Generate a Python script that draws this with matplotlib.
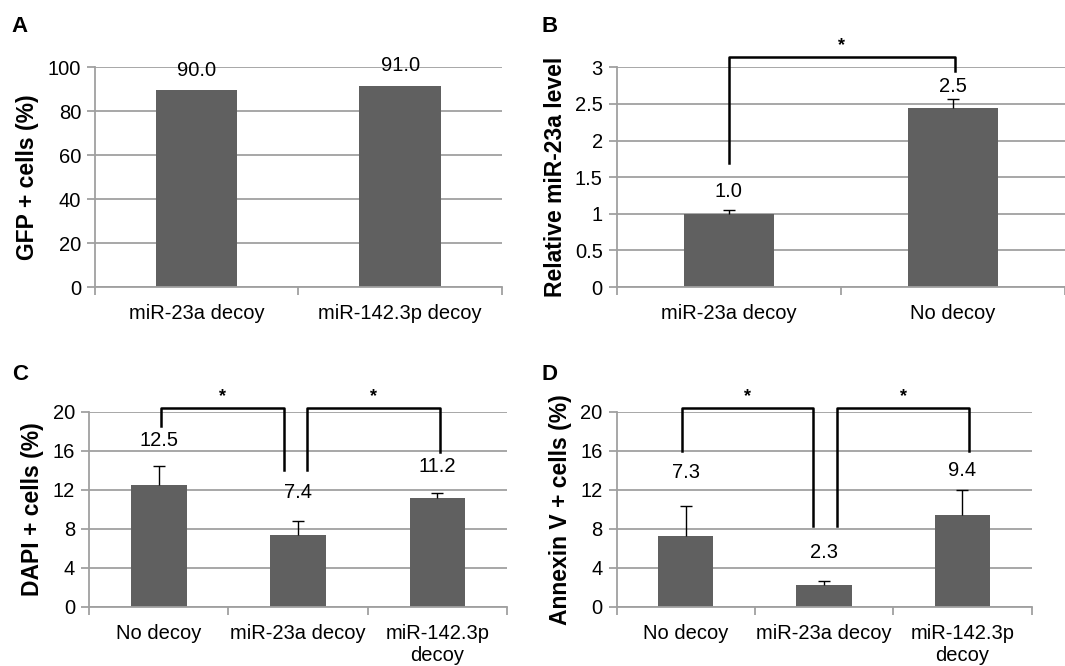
import matplotlib
matplotlib.use("Agg")
import matplotlib.pyplot as plt
import numpy as np

plt.rcParams["font.family"] = ["Liberation Sans", "DejaVu Sans"]

# Panel A
a_cats = ["miR-23a decoy", "miR-142.3p decoy"]
a_vals = [89.5, 91.4]
a_labels = ["90.0", "91.0"]
a_label_y = [98.6, 100.9]

# Panel B
b_cats = ["miR-23a decoy", "No decoy"]
b_vals = [1.0, 2.45]
b_err = [0.05, 0.12]
b_labels = ["1.0", "2.5"]
b_label_y = [1.3, 2.74]

# Panel C
c_cats = ["No decoy", "miR-23a decoy", "miR-142.3p\ndecoy"]
c_vals = [12.5, 7.4, 11.2]
c_err = [2.0, 1.4, 0.5]
c_labels = ["12.5", "7.4", "11.2"]
c_label_y = [17.1, 11.7, 14.4]

# Panel D
d_cats = ["No decoy", "miR-23a decoy", "miR-142.3p\ndecoy"]
d_vals = [7.3, 2.3, 9.4]
d_err = [3.1, 0.4, 2.6]
d_labels = ["7.3", "2.3", "9.4"]
d_label_y = [13.8, 5.6, 14.0]

BAR = "#606060"
GRID = "#a0a0a0"
FS = 14.5


def draw_panel(ax, cats, vals, ymax, step, ylabel, labels, label_y, err=None):
    x = np.arange(len(cats))
    ax.set_xlim(-0.5, len(cats) - 0.5)
    ax.set_ylim(0, ymax)
    ax.set_yticks(np.arange(0, ymax + step / 2, step))
    ax.yaxis.grid(True, color=GRID, linewidth=1.3)
    ax.set_axisbelow(True)
    ax.bar(x, vals, width=0.4, color=BAR, zorder=2)
    if err is not None:
        # only the upper half of the error bar, capped at the top
        tops = np.asarray(vals) + np.asarray(err)
        ax.vlines(x, vals, tops, color="black", lw=1, zorder=3)
        ax.plot(x, tops, ls="none", marker="_", ms=8, mew=1, color="black",
                zorder=3)
    for xi, lab, ly in zip(x, labels, label_y):
        ax.text(xi, ly, lab, ha="center", va="center", fontsize=FS, clip_on=False)
    for s in ["top", "right"]:
        ax.spines[s].set_visible(False)
    for s in ["left", "bottom"]:
        ax.spines[s].set_color(GRID)
        ax.spines[s].set_linewidth(1.3)
    ax.set_xticks(x)
    ax.set_xticklabels(cats, fontsize=FS, linespacing=1.2)
    ax.set_xticks(np.arange(-0.5, len(cats)), minor=True)
    ax.tick_params(axis="x", which="major", length=0, pad=12)
    ax.tick_params(axis="x", which="minor", length=6, color=GRID, width=1.3)
    ax.tick_params(axis="y", length=6, color=GRID, width=1.3, labelsize=FS, pad=4)
    ax.set_ylabel(ylabel, fontsize=16.5, fontweight="bold", labelpad=6)


def bracket(ax, x1, x2, top, y1, y2, star_y):
    ax.plot([x1, x1, x2, x2], [y1, top, top, y2], color="black", lw=1.8,
            clip_on=False, zorder=4)
    ax.text((x1 + x2) / 2, star_y, "*", ha="center", va="center",
            fontsize=13, fontweight="bold", clip_on=False)


fig = plt.figure(figsize=(10.65, 6.66), dpi=100)

ax_a = fig.add_axes([0.0892, 0.569, 0.382, 0.330])
draw_panel(ax_a, a_cats, a_vals, 100, 20, "GFP + cells (%)", a_labels, a_label_y)

ax_b = fig.add_axes([0.579, 0.569, 0.421, 0.330])
draw_panel(ax_b, b_cats, b_vals, 3, 0.5, "Relative miR-23a level", b_labels,
           b_label_y, b_err)
ax_b.set_yticklabels(["0", "0.5", "1", "1.5", "2", "2.5", "3"])
bracket(ax_b, 0.0, 1.01, 3.14, 1.69, 2.95, 3.3)

ax_c = fig.add_axes([0.0836, 0.0886, 0.3925, 0.293])
draw_panel(ax_c, c_cats, c_vals, 20, 4, "DAPI + cells (%)", c_labels,
           c_label_y, c_err)
bracket(ax_c, 0.02, 0.90, 20.4, 18.5, 14.0, 21.6)
bracket(ax_c, 1.065, 2.02, 20.4, 14.0, 15.9, 21.6)

ax_d = fig.add_axes([0.579, 0.0886, 0.3897, 0.293])
draw_panel(ax_d, d_cats, d_vals, 20, 4, "Annexin V + cells (%)", d_labels,
           d_label_y, d_err)
bracket(ax_d, -0.03, 0.92, 20.4, 16.0, 8.3, 21.6)
bracket(ax_d, 1.09, 2.05, 20.4, 8.3, 16.0, 21.6)

for letter, xp, yp in [("A", 0.011, 0.960), ("B", 0.508, 0.960),
                       ("C", 0.011, 0.437), ("D", 0.508, 0.437)]:
    fig.text(xp, yp, letter, fontsize=16, fontweight="bold", va="center")

fig.savefig("out.png", dpi=100)
